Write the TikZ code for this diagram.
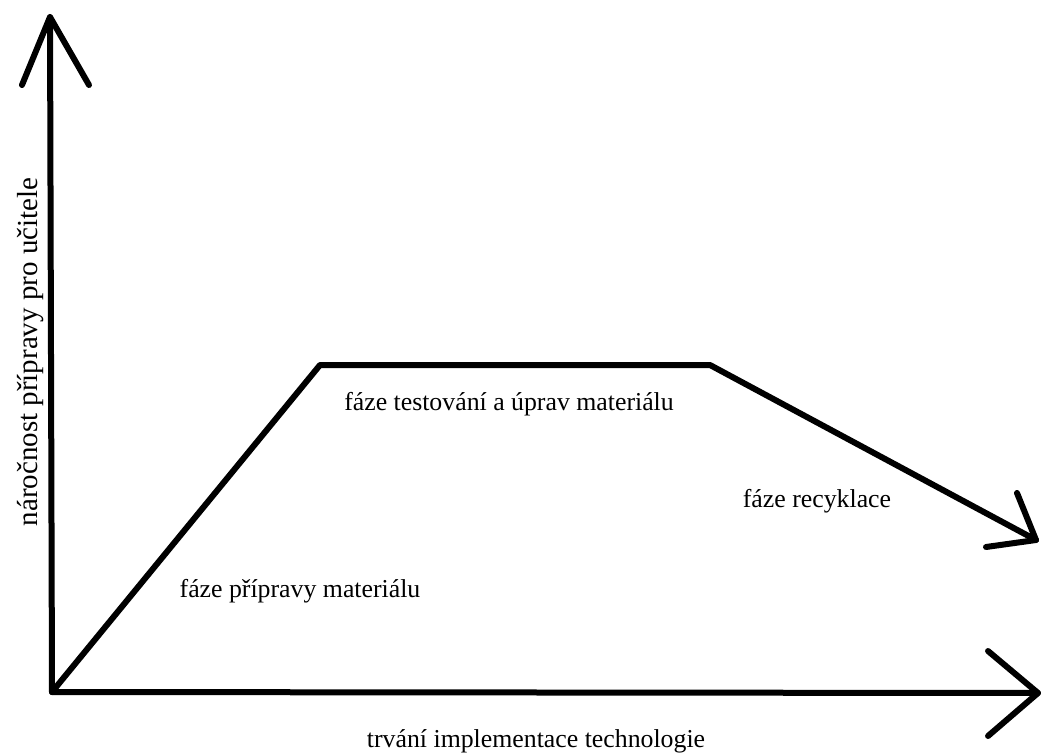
\documentclass[tikz,border=0pt]{standalone}
\usepackage{fontspec}
\setmainfont{Liberation Serif}
\begin{document}
\begin{tikzpicture}[x=1pt,y=-1pt,
  stroke/.style={line width=6pt,line cap=round,line join=round},
  lbl/.style={font=\fontsize{25.8}{30}\selectfont,inner sep=0pt,anchor=base}]
\useasboundingbox (0,0) rectangle (1041,752);
\clip (0,0) rectangle (1041,752);
% axis and curve points
\coordinate (O) at (52,692);
\coordinate (Ytip) at (50,17);
\coordinate (Xtip) at (1038,693);
\coordinate (A) at (320,365);
\coordinate (B) at (710,365);
\coordinate (Ctip) at (1036,540);
% axes
\draw[stroke] (O) -- (Ytip);
\draw[stroke] (O) -- (Xtip);
\draw[stroke] (22,85) -- (Ytip) -- (89,85);
\draw[stroke] (988,651) -- (Xtip) -- (988,736);
% effort curve
\draw[stroke] (O) -- (A) -- (B) -- (Ctip);
\draw[stroke] (1017,493) -- (Ctip) -- (986,547);
% labels
\node[lbl] (t1) at (509,410) {fáze testování a úprav materiálu};
\node[lbl] (t2) at (300,597) {fáze přípravy materiálu};
\node[lbl] (t3) at (817,507) {fáze recyklace};
\node[lbl] (t4) at (536,747) {trvání implementace technologie};
\node[lbl,rotate=90,font=\fontsize{29}{34}\selectfont] (t5) at (37,352) {náročnost přípravy pro učitele};
\end{tikzpicture}
\end{document}
